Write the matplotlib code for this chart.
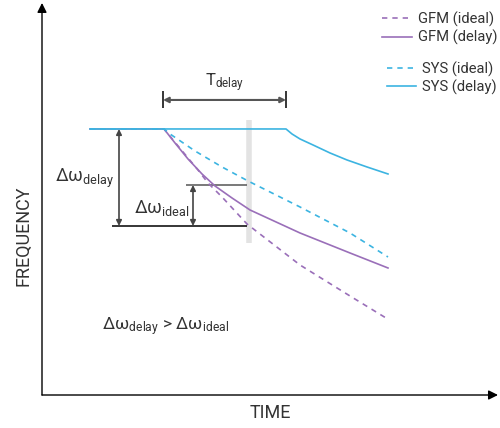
import matplotlib
matplotlib.use("Agg")
import matplotlib.pyplot as plt
from matplotlib.lines import Line2D

plt.rcParams['font.family'] = ['Roboto', 'DejaVu Sans']
plt.rcParams['mathtext.default'] = 'regular'

# schematic curves (time, frequency in arbitrary units)
gfm_ideal_t = [48, 122, 146, 156, 166, 180, 205, 258, 308, 344]
gfm_ideal_f = [266, 266, 237, 225, 212, 198, 171, 130, 99, 77]

gfm_delay_t = [48, 122, 133, 146, 160, 173, 190, 208, 258, 308, 346]
gfm_delay_f = [266, 266, 252, 236, 221, 209, 197, 185, 162, 142, 127]

sys_ideal_t = [48, 122, 128, 153, 180, 206, 258, 308, 346]
sys_ideal_f = [266, 266, 261, 244, 228, 214, 188, 162, 138]

sys_delay_t = [48, 244, 250, 258, 271, 288, 305, 325, 346]
sys_delay_f = [266, 266, 261, 256, 250, 242, 235, 228, 221]

# markers for the annotation
t_start = 121
t_delay_end = 244
t_probe = 207
f_flat = 266
f_delay = 169
f_ideal = 210

purple = '#9a6fb9'
cyan = '#3cb4e1'
txt = '#333333'

fig = plt.figure(figsize=(5, 4.28), dpi=100)
ax = fig.add_axes([0.084, 0.0771, 0.912, 0.916])
ax.set_xlim(0, 456)
ax.set_ylim(0, 392)
for s in ax.spines.values():
    s.set_visible(False)
ax.set_xticks([])
ax.set_yticks([])

# axis arrows
ax.annotate('', xy=(0, 1), xytext=(0, 0), xycoords='axes fraction',
            arrowprops=dict(arrowstyle='-|>', color='black', lw=1, mutation_scale=14,
                            shrinkA=0, shrinkB=0))
ax.annotate('', xy=(1, 0), xytext=(0, 0), xycoords='axes fraction',
            arrowprops=dict(arrowstyle='-|>', color='black', lw=1, mutation_scale=14,
                            shrinkA=0, shrinkB=0))

# probe bar
ax.plot([t_probe, t_probe], [152, 275], color='#e3e3e3', lw=4, zorder=1,
        solid_capstyle='butt')

dash = (0, (3.2, 3.0))
ax.plot(gfm_ideal_t, gfm_ideal_f, color=purple, lw=1.2, ls=dash, zorder=3)
ax.plot(gfm_delay_t, gfm_delay_f, color=purple, lw=1.2, zorder=3)
ax.plot(sys_ideal_t, sys_ideal_f, color=cyan, lw=1.2, ls=dash, zorder=3)
ax.plot(sys_delay_t, sys_delay_f, color=cyan, lw=1.2, zorder=4)

# T_delay
ax.vlines([t_start, t_delay_end], 287, 304, color='black', lw=1.1)
ax.annotate('', xy=(t_delay_end, 295), xytext=(t_start, 295),
            arrowprops=dict(arrowstyle='<|-|>', color='#555555', lw=1.5,
                            mutation_scale=8, shrinkA=0, shrinkB=0))
ax.text((t_start + t_delay_end) / 2, 312, r'T$_{delay}$', ha='center', va='center',
        fontsize=12, color=txt)

# delta omega delay
ax.hlines(f_delay, 70, t_probe - 2, color='black', lw=1.1)
ax.annotate('', xy=(77, f_delay), xytext=(77, f_flat),
            arrowprops=dict(arrowstyle='<|-|>', color='#444444', lw=1.2,
                            mutation_scale=8, shrinkA=0, shrinkB=0))
ax.text(72, 217, r'Δω$_{delay}$', ha='right', va='center', fontsize=13, color=txt)

# delta omega ideal
ax.hlines(f_ideal, 144, t_probe - 2, color='#555555', lw=1.1)
ax.annotate('', xy=(151, f_delay), xytext=(151, f_ideal),
            arrowprops=dict(arrowstyle='<|-|>', color='#444444', lw=1.2,
                            mutation_scale=8, shrinkA=0, shrinkB=0))
ax.text(148, 187, r'Δω$_{ideal}$', ha='right', va='center', fontsize=13, color=txt)

ax.text(60, 68, r'Δω$_{delay}$ > Δω$_{ideal}$', ha='left', va='center',
        fontsize=12.5, color=txt)

# legends
h1 = [Line2D([], [], color=purple, lw=1.2, ls=dash),
      Line2D([], [], color=purple, lw=1.2)]
h2 = [Line2D([], [], color=cyan, lw=1.2, ls=dash),
      Line2D([], [], color=cyan, lw=1.2)]
kw = dict(frameon=False, fontsize=10.6, handlelength=2.0, handletextpad=0.4,
          labelspacing=0.2, borderpad=0, borderaxespad=0, loc='upper right',
          bbox_transform=fig.transFigure, labelcolor=txt)
leg1 = ax.legend(h1, ['GFM (ideal)', 'GFM (delay)'],
                 bbox_to_anchor=(0.994, 0.973), **kw)
ax.add_artist(leg1)
ax.legend(h2, ['SYS (ideal)', 'SYS (delay)'],
          bbox_to_anchor=(0.994, 0.857), **kw)

fig.text(23 / 500, 1 - 236 / 428, 'FREQUENCY', rotation=90, ha='center', va='center',
         fontsize=13, color=txt)
fig.text(270 / 500, 1 - 413 / 428, 'TIME', ha='center', va='center',
         fontsize=13, color=txt)

fig.savefig('out.png', dpi=100)
